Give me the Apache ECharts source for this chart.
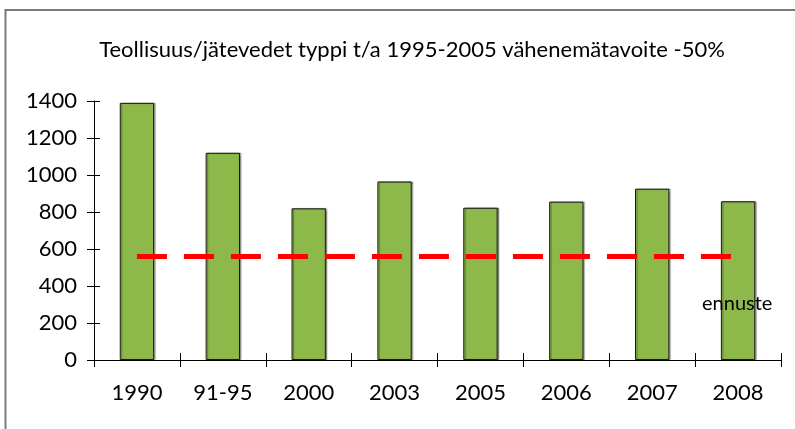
<!DOCTYPE html>
<html>
<head>
<meta charset="utf-8">
<script src="https://cdn.jsdelivr.net/npm/echarts@6/dist/echarts.min.js"></script>
<style>
  html, body { margin: 0; padding: 0; background: #fff; }
  #main { width: 795px; height: 429px; }
</style>
</head>
<body>
<div id="main"></div>
<script>
// data
var categories = ['1990', '91-95', '2000', '2003', '2005', '2006', '2007', '2008']
var values = [1390, 1120, 820, 965, 823, 856, 926, 858]
// tavoite = 50% of 91-95
var target = [560, 560, 560, 560, 560, 560, 560, 560]
var yTicks = [0, 200, 400, 600, 800, 1000, 1200, 1400]

var font = 'Lato, "DejaVu Sans", sans-serif'
var myChart = echarts.init(document.getElementById('main'), null, {renderer: 'canvas'})

var option = {
  animation: false,
  title: {
    text: 'Teollisuus/jätevedet typpi t/a 1995-2005 vähenemätavoite -50%',
    left: 407,
    textAlign: 'center',
    top: 34,
    textStyle: {fontFamily: font, fontSize: 22, fontWeight: 'normal', color: '#000'}
  },
  grid: {left: 94, right: 14, top: 101, bottom: 69},
  graphic: [
    {
      type: 'rect',
      shape: {x: 5.5, y: 10, width: 900, height: 600},
      style: {fill: 'none', stroke: '#7a7a7a', lineWidth: 2},
      silent: true
    },
    {
      type: 'text',
      left: 702,
      top: 294,
      z: 100,
      style: {text: 'ennuste', font: '20px ' + font, fill: '#000'}
    }
  ],
  xAxis: [
    {
      type: 'category',
      data: categories,
      axisLine: {lineStyle: {color: '#000', width: 1}},
      axisTick: {show: true, length: 7, lineStyle: {color: '#000'}},
      axisLabel: {margin: 22, fontFamily: font, fontSize: 22, color: '#000'}
    },
    {
      type: 'category',
      data: categories,
      position: 'bottom',
      axisLine: {show: false},
      axisTick: {show: true, inside: true, length: 7, lineStyle: {color: '#000'}},
      axisLabel: {show: false}
    }
  ],
  yAxis: [
    {
      type: 'value',
      min: 0,
      max: yTicks[yTicks.length - 1],
      interval: 200,
      splitLine: {show: false},
      axisLine: {show: true, lineStyle: {color: '#000', width: 1}},
      axisTick: {show: true, length: 7, lineStyle: {color: '#000'}},
      axisLabel: {
        margin: 17, fontFamily: font, fontSize: 22, color: '#000',
        formatter: function (v) { return String(v) }
      }
    },
    {
      type: 'value',
      position: 'left',
      min: 0,
      max: yTicks[yTicks.length - 1],
      interval: 200,
      splitLine: {show: false},
      axisLine: {show: false},
      axisTick: {show: true, inside: true, length: 6, lineStyle: {color: '#000'}},
      axisLabel: {show: false}
    }
  ],
  series: [
    {
      name: 'typpi',
      type: 'bar',
      data: values,
      barWidth: '40%',
      itemStyle: {
        color: '#8db94b',
        borderColor: '#1a1a1a',
        borderWidth: 1,
        shadowColor: 'rgba(0,0,0,0.35)',
        shadowOffsetX: 1.5,
        shadowOffsetY: 0,
        shadowBlur: 1
      },
      silent: true
    },
    {
      name: 'tavoite',
      type: 'line',
      data: target,
      symbol: 'none',
      lineStyle: {color: '#ff0000', width: 5, type: [30, 17], cap: 'butt'},
      z: 5,
      silent: true
    }
  ]
}

myChart.setOption(option)
</script>
</body>
</html>
